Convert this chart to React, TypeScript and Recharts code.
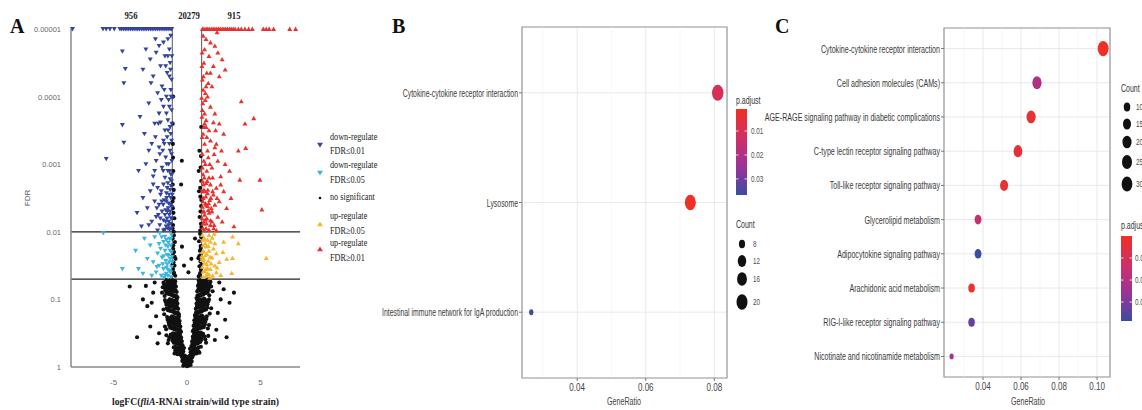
import React from 'react';
import {
  ScatterChart, Scatter, XAxis, YAxis, CartesianGrid, ReferenceLine, ReferenceArea,
} from 'recharts';

const SERIF = '"Liberation Serif", "Times New Roman", serif';
const SANS = '"Liberation Sans", Arial, sans-serif';

// ── panel A: volcano (x = logFC, y = -log10 FDR, capped at 5) ──────────
const aYTickLabels = ['1', '0.1', '0.01', '0.001', '0.0001', '0.00001'];
const aXTicks = [-5, 0, 5];
const aGroupTotals = ['956', '20279', '915'];

const downTopX = [-1.04, -1.15, -1.28, -1.4, -1.51, -1.63, -1.76, -1.88, -2.0, -2.12, -2.25, -2.37, -2.49, -2.62,
  -2.74, -2.86, -2.98, -3.1, -3.23, -3.35, -3.47, -3.6, -3.72, -3.84, -3.97, -4.09, -4.21, -4.33, -4.46, -4.57,
  -4.95, -5.25, -5.5, -5.72, -7.8];
const downStrong: [number, number][] = [
  [-1.1, 4.9], [-1.3, 4.85], [-1.6, 4.8], [-1.9, 4.75], [-1.2, 4.7], [-2.1, 4.65], [-1.5, 4.6], [-2.5, 4.55],
  [-1.15, 4.5], [-1.8, 4.45], [-2.8, 4.7], [-1.35, 4.35], [-2.3, 4.3], [-1.05, 4.25], [-4.4, 4.67], [-4.2, 4.41],
  [-4.3, 4.2], [-3.0, 4.4], [-1.7, 4.15], [-2.0, 4.05], [-1.1, 4.1], [-1.4, 4.0], [-1.25, 3.95], [-2.6, 3.9],
  [-1.6, 3.85], [-1.05, 3.8], [-1.9, 3.75], [-3.2, 3.7], [-1.3, 3.65], [-2.2, 3.6], [-1.15, 3.55], [-4.4, 3.58],
  [-1.5, 3.5], [-1.8, 3.62], [-2.9, 3.45], [-1.0, 3.98], [-2.4, 3.3], [-1.1, 3.45], [-1.35, 3.4], [-1.6, 3.35],
  [-4.3, 3.32], [-1.2, 3.3], [-1.9, 3.25], [-2.6, 3.2], [-1.05, 3.15], [-1.45, 3.1], [-5.5, 3.08], [-2.1, 3.05],
  [-1.25, 3.0], [-1.7, 2.95], [-3.3, 2.9], [-1.1, 2.85], [-2.3, 2.82], [-1.5, 2.8], [-1.85, 3.15], [-2.8, 3.0],
  [-1.05, 2.75], [-1.3, 2.72], [-1.6, 2.7], [-2.0, 2.65], [-1.15, 2.62], [-2.5, 2.6], [-1.4, 2.57], [-1.8, 2.55],
  [-1.1, 2.5], [-3.0, 2.5], [-1.55, 2.47], [-2.2, 2.45], [-1.25, 2.42], [-1.9, 2.4], [-1.05, 2.37], [-2.7, 2.35],
  [-1.45, 2.32], [-1.7, 2.3], [-3.4, 2.28], [-1.2, 2.25], [-2.1, 2.22], [-1.35, 2.2], [-1.6, 2.17], [-2.4, 2.15],
  [-1.1, 2.12], [-1.85, 2.1], [-3.1, 2.08], [-1.3, 2.05], [-1.5, 2.03], [-2.0, 2.02], [-1.15, 2.3], [-1.75, 2.6],
  [-2.3, 2.7], [-1.02, 2.2], [-2.6, 2.1], [-1.95, 2.25], [-1.2, 4.3], [-1.4, 3.75], [-1.05, 3.35], [-1.3, 2.9],
  [-1.65, 3.2], [-1.0, 2.55], [-1.45, 4.45], [-1.75, 3.95], [-2.15, 3.4], [-1.25, 2.15],
  [-1.03, 4.6], [-1.12, 4.4], [-1.08, 4.0], [-1.2, 3.85], [-1.03, 3.6], [-1.15, 3.2], [-1.28, 3.5], [-1.03, 3.05],
  [-1.18, 2.9], [-1.35, 2.65], [-1.08, 2.68], [-1.22, 2.55], [-1.4, 2.45], [-1.1, 2.4], [-1.33, 2.3], [-1.5, 2.25],
  [-1.08, 2.2], [-1.25, 2.1], [-1.42, 2.08], [-1.6, 2.02], [-1.18, 2.03], [-1.38, 3.0], [-1.55, 3.3], [-1.62, 2.9],
  [-1.72, 2.45], [-2.05, 2.35], [-2.2, 2.9], [-1.95, 3.6], [-2.45, 4.2], [-2.15, 4.85], [-1.55, 4.1], [-1.3, 4.6],
  [-1.02, 2.85], [-1.15, 2.78], [-1.28, 2.35], [-1.45, 2.15], [-1.05, 2.05], [-1.62, 2.4], [-1.82, 2.2], [-1.38, 2.5],
];
const downWeak: [number, number][] = [
  [-1.05, 1.95], [-1.2, 1.9], [-1.4, 1.88], [-1.6, 1.85], [-1.1, 1.8], [-1.3, 1.78], [-1.8, 1.75], [-1.5, 1.72],
  [-1.05, 1.7], [-2.0, 1.68], [-1.25, 1.65], [-1.7, 1.62], [-1.15, 1.6], [-1.45, 1.57], [-2.3, 1.55], [-1.35, 1.52],
  [-1.9, 1.5], [-1.05, 1.48], [-1.6, 1.45], [-1.2, 1.42], [-2.1, 1.4], [-1.4, 1.38], [-1.75, 1.35], [-1.1, 1.33],
  [-1.55, 1.32], [-2.5, 1.8], [-2.7, 1.6], [-3.5, 1.72], [-3.3, 1.45], [-4.4, 1.45], [-5.7, 1.98], [-2.9, 1.9],
  [-3.0, 1.38], [-2.2, 1.92], [-1.3, 1.35], [-1.85, 1.98], [-1.0, 1.55], [-1.5, 1.93], [-2.4, 1.35],
  [-1.08, 1.9], [-1.25, 1.84], [-1.45, 1.8], [-1.15, 1.72], [-1.35, 1.66], [-1.58, 1.64], [-1.2, 1.55], [-1.4, 1.47],
  [-1.65, 1.52], [-1.1, 1.4], [-1.3, 1.44], [-1.5, 1.36], [-1.9, 1.82], [-2.05, 1.48], [-1.72, 1.92], [-1.02, 1.63],
];
const upTopX = [1.05, 1.16, 1.3, 1.41, 1.52, 1.66, 1.78, 1.9, 2.03, 2.15, 2.27, 2.4, 2.52, 2.65, 2.77, 2.9, 3.02,
  3.15, 3.28, 3.5, 3.7, 3.95, 4.2, 4.45, 5.2, 5.4, 5.6, 5.9, 7.0, 7.4];
const upStrong: [number, number][] = [
  [1.1, 4.9], [1.3, 4.85], [1.6, 4.8], [1.9, 4.75], [1.2, 4.7], [2.1, 4.65], [1.5, 4.6], [2.4, 4.55],
  [1.15, 4.5], [1.8, 4.45], [1.35, 4.35], [2.2, 4.3], [1.05, 4.25], [1.7, 4.15], [2.6, 4.4], [1.25, 4.05],
  [1.1, 4.1], [1.4, 4.0], [1.25, 3.95], [3.7, 3.93], [1.6, 3.85], [1.05, 3.8], [1.9, 3.75], [4.55, 3.68],
  [1.3, 3.65], [2.2, 3.6], [3.95, 3.6], [1.15, 3.55], [1.5, 3.5], [1.8, 3.62], [2.5, 3.45], [1.0, 3.98],
  [2.0, 3.3], [1.1, 3.45], [1.35, 3.4], [1.6, 3.35], [1.2, 3.3], [1.9, 3.25], [4.0, 3.24], [1.05, 3.15],
  [1.45, 3.1], [2.1, 3.05], [1.25, 3.0], [1.7, 2.95], [2.9, 2.9], [1.1, 2.85], [2.3, 2.82], [1.5, 2.8],
  [1.85, 3.15], [2.6, 3.0], [3.5, 3.2], [1.05, 2.75], [1.3, 2.72], [1.6, 2.7], [2.0, 2.65], [1.15, 2.62],
  [2.5, 2.6], [1.4, 2.57], [1.8, 2.55], [1.1, 2.5], [3.0, 2.5], [1.55, 2.47], [2.2, 2.45], [1.25, 2.42],
  [1.9, 2.4], [1.05, 2.37], [2.7, 2.35], [1.45, 2.32], [1.7, 2.3], [5.1, 2.33], [1.2, 2.25], [2.1, 2.22],
  [1.35, 2.2], [1.6, 2.17], [2.4, 2.15], [1.1, 2.12], [1.85, 2.1], [3.2, 2.08], [1.3, 2.05], [1.5, 2.03],
  [2.0, 2.02], [4.97, 2.77], [3.6, 2.77], [1.15, 2.3], [1.75, 2.6], [2.3, 2.7], [1.02, 2.2], [1.2, 3.75],
  [1.4, 3.2], [1.05, 2.95], [1.3, 2.4], [1.6, 2.1], [1.02, 4.45], [1.45, 4.2],
  [1.03, 4.65], [1.12, 4.3], [1.08, 3.9], [1.2, 3.6], [1.03, 3.4], [1.15, 3.05], [1.3, 3.55], [1.03, 2.6],
  [1.18, 2.8], [1.35, 2.9], [1.08, 2.45], [1.22, 2.6], [1.4, 2.38], [1.1, 2.3], [1.33, 2.12], [1.5, 2.28],
  [1.08, 2.05], [1.25, 2.18], [1.42, 2.62], [1.62, 2.5], [1.18, 2.02], [1.38, 2.75], [1.55, 3.0], [1.65, 2.35],
  [1.75, 2.8], [2.05, 2.5], [2.35, 3.2], [1.95, 3.5], [1.6, 4.35], [2.05, 4.95], [1.3, 4.15], [1.02, 3.7],
  [1.15, 2.15], [1.28, 2.52], [1.48, 2.42], [1.82, 2.05], [1.7, 2.15], [1.12, 2.7],
];
const upWeak: [number, number][] = [
  [1.05, 1.95], [1.2, 1.9], [1.4, 1.88], [1.6, 1.85], [1.1, 1.8], [1.3, 1.78], [1.8, 1.75], [1.5, 1.72],
  [1.05, 1.7], [2.0, 1.68], [1.25, 1.65], [1.7, 1.62], [1.15, 1.6], [1.45, 1.57], [2.2, 1.55], [1.35, 1.52],
  [1.9, 1.5], [1.05, 1.48], [1.6, 1.45], [1.2, 1.42], [2.0, 1.4], [1.4, 1.38], [1.75, 1.35], [1.1, 1.33],
  [1.55, 1.32], [2.5, 1.85], [2.7, 1.6], [3.1, 1.93], [3.5, 1.83], [3.1, 1.61], [5.4, 1.61], [3.05, 1.39],
  [1.3, 1.35], [1.85, 1.97], [1.02, 1.58], [1.5, 1.95], [2.3, 1.36], [2.45, 1.7],
  [1.08, 1.88], [1.25, 1.83], [1.45, 1.79], [1.15, 1.71], [1.35, 1.67], [1.58, 1.63], [1.2, 1.54], [1.4, 1.46],
  [1.65, 1.53], [1.1, 1.41], [1.3, 1.45], [1.5, 1.37], [1.9, 1.83], [2.05, 1.47], [1.72, 1.91], [1.02, 1.64],
];
const notSig: [number, number][] = [
  // apex
  [0, 0.01], [0.08, 0.02], [-0.08, 0.03], [0.15, 0.04], [-0.15, 0.05], [0.22, 0.06], [-0.22, 0.07], [0.03, 0.08],
  [-0.03, 0.09], [0.28, 0.1], [-0.28, 0.11], [0.12, 0.12], [-0.12, 0.13], [0.35, 0.14], [-0.35, 0.15], [0.2, 0.1],
  [-0.2, 0.12], [0.05, 0.05], [-0.05, 0.04], [0.1, 0.07], [-0.1, 0.08], [0.18, 0.13], [-0.18, 0.14], [0.25, 0.03],
  [-0.25, 0.02], [0.32, 0.08], [-0.32, 0.09], [0, 0.06], [0.06, 0.14], [-0.06, 0.15],
  // 0.15 - 0.3
  [-0.15, 0.17], [-0.3, 0.18], [-0.45, 0.2], [-0.6, 0.22], [-0.25, 0.23], [-0.4, 0.25], [-0.55, 0.26], [-0.7, 0.27],
  [-0.2, 0.28], [-0.35, 0.29], [-0.5, 0.3], [-0.8, 0.24], [-0.65, 0.19], [-0.9, 0.29],
  [-0.22, 0.16], [-0.38, 0.17], [-0.52, 0.19], [-0.68, 0.24], [-0.32, 0.21], [-0.48, 0.22], [-0.62, 0.28],
  [-0.78, 0.3], [-0.28, 0.26], [-0.42, 0.3], [-0.85, 0.2],
  [0.15, 0.16], [0.3, 0.18], [0.45, 0.19], [0.6, 0.21], [0.25, 0.22], [0.4, 0.24], [0.55, 0.25], [0.7, 0.26],
  [0.2, 0.27], [0.35, 0.28], [0.5, 0.3], [0.8, 0.23], [0.65, 0.2], [0.95, 0.3],
  [0.22, 0.17], [0.38, 0.16], [0.52, 0.2], [0.68, 0.23], [0.32, 0.2], [0.48, 0.23], [0.62, 0.27],
  [0.78, 0.29], [0.28, 0.25], [0.42, 0.29], [0.85, 0.21],
  // 0.3 - 0.5
  [-0.3, 0.32], [-0.45, 0.33], [-0.6, 0.34], [-0.75, 0.35], [-0.9, 0.36], [-0.35, 0.38], [-0.5, 0.39], [-0.65, 0.4],
  [-0.8, 0.41], [-1.0, 0.42], [-0.4, 0.44], [-0.55, 0.45], [-0.7, 0.46], [-0.85, 0.47], [-1.1, 0.48], [-0.6, 0.5],
  [-0.95, 0.5], [-1.25, 0.4], [-1.4, 0.47],
  [-0.38, 0.34], [-0.52, 0.36], [-0.68, 0.37], [-0.82, 0.38], [-0.98, 0.39], [-0.42, 0.41], [-0.58, 0.42],
  [-0.72, 0.43], [-0.88, 0.44], [-1.05, 0.46], [-0.48, 0.48], [-0.66, 0.49], [-0.78, 0.5], [-1.2, 0.44], [-1.3, 0.35],
  [0.3, 0.31], [0.45, 0.33], [0.6, 0.34], [0.75, 0.35], [0.9, 0.37], [0.35, 0.38], [0.5, 0.4], [0.65, 0.41],
  [0.8, 0.42], [1.0, 0.43], [0.4, 0.45], [0.55, 0.46], [0.7, 0.47], [0.85, 0.48], [1.1, 0.49], [0.6, 0.5],
  [0.95, 0.51], [1.25, 0.41], [1.45, 0.46],
  [0.38, 0.35], [0.52, 0.37], [0.68, 0.36], [0.82, 0.39], [0.98, 0.4], [0.42, 0.42], [0.58, 0.43],
  [0.72, 0.44], [0.88, 0.45], [1.05, 0.47], [0.48, 0.49], [0.66, 0.48], [0.78, 0.51], [1.2, 0.45], [1.3, 0.36],
  // 0.5 - 0.75
  [-0.4, 0.52], [-0.55, 0.53], [-0.7, 0.55], [-0.85, 0.56], [-1.0, 0.57], [-1.15, 0.58], [-0.45, 0.6], [-0.6, 0.61],
  [-0.75, 0.62], [-0.9, 0.64], [-1.05, 0.65], [-1.25, 0.66], [-0.5, 0.68], [-0.65, 0.69], [-0.8, 0.7], [-0.95, 0.72],
  [-1.1, 0.73], [-1.35, 0.74], [-1.5, 0.6], [-0.55, 0.75],
  [-0.48, 0.55], [-0.62, 0.56], [-0.78, 0.58], [-0.92, 0.59], [-1.08, 0.6], [-1.22, 0.62], [-0.52, 0.64],
  [-0.68, 0.65], [-0.82, 0.66], [-0.98, 0.68], [-1.15, 0.69], [-1.32, 0.7], [-0.58, 0.72], [-0.72, 0.73],
  [-0.88, 0.74], [-1.02, 0.75], [-1.42, 0.56],
  [0.4, 0.53], [0.55, 0.54], [0.7, 0.55], [0.85, 0.57], [1.0, 0.58], [1.15, 0.59], [0.45, 0.61], [0.6, 0.62],
  [0.75, 0.63], [0.9, 0.65], [1.05, 0.66], [1.25, 0.67], [0.5, 0.69], [0.65, 0.7], [0.8, 0.71], [0.95, 0.73],
  [1.1, 0.74], [1.35, 0.75], [1.5, 0.62], [0.55, 0.76],
  [0.48, 0.56], [0.62, 0.57], [0.78, 0.59], [0.92, 0.6], [1.08, 0.61], [1.22, 0.63], [0.52, 0.65],
  [0.68, 0.66], [0.82, 0.67], [0.98, 0.69], [1.15, 0.7], [1.32, 0.71], [0.58, 0.73], [0.72, 0.74],
  [0.88, 0.75], [1.02, 0.76], [1.42, 0.57],
  // 0.75 - 1.0
  [-0.55, 0.78], [-0.7, 0.79], [-0.85, 0.8], [-1.0, 0.82], [-1.15, 0.83], [-1.3, 0.84], [-0.6, 0.86], [-0.75, 0.87],
  [-0.9, 0.88], [-1.05, 0.9], [-1.2, 0.91], [-1.4, 0.92], [-0.65, 0.94], [-0.8, 0.95], [-0.95, 0.96], [-1.1, 0.97],
  [-1.25, 0.98], [-1.5, 0.99], [-1.6, 0.85], [-0.7, 1.0],
  [-0.62, 0.8], [-0.78, 0.81], [-0.92, 0.83], [-1.08, 0.84], [-1.22, 0.86], [-1.38, 0.87], [-0.68, 0.89],
  [-0.82, 0.9], [-0.98, 0.92], [-1.12, 0.93], [-1.28, 0.94], [-1.45, 0.96], [-0.72, 0.97], [-0.88, 0.98],
  [-1.02, 0.99], [-1.18, 1.0], [-1.55, 0.78],
  [0.55, 0.77], [0.7, 0.79], [0.85, 0.81], [1.0, 0.82], [1.15, 0.84], [1.3, 0.85], [0.6, 0.86], [0.75, 0.88],
  [0.9, 0.89], [1.05, 0.9], [1.2, 0.92], [1.4, 0.93], [0.65, 0.94], [0.8, 0.96], [0.95, 0.97], [1.1, 0.98],
  [1.25, 0.99], [1.5, 1.0], [1.65, 0.87], [0.7, 1.01],
  [0.62, 0.81], [0.78, 0.82], [0.92, 0.84], [1.08, 0.85], [1.22, 0.87], [1.38, 0.88], [0.68, 0.9],
  [0.82, 0.91], [0.98, 0.93], [1.12, 0.94], [1.28, 0.95], [1.45, 0.97], [0.72, 0.98], [0.88, 0.99],
  [1.02, 1.0], [1.18, 1.01], [1.55, 0.79],
  // 1.0 - 1.3
  [-0.65, 1.03], [-0.8, 1.04], [-0.95, 1.05], [-1.1, 1.07], [-1.25, 1.08], [-1.4, 1.09], [-0.7, 1.11], [-0.85, 1.12],
  [-1.0, 1.13], [-1.15, 1.15], [-1.3, 1.16], [-1.5, 1.17], [-0.75, 1.19], [-0.9, 1.2], [-1.05, 1.21], [-1.2, 1.23],
  [-1.35, 1.24], [-1.6, 1.25], [-0.8, 1.27], [-0.95, 1.28], [-1.1, 1.29], [-1.7, 1.1], [-1.45, 1.29],
  [-0.72, 1.05], [-0.88, 1.06], [-1.02, 1.08], [-1.18, 1.1], [-1.32, 1.11], [-1.48, 1.13], [-0.78, 1.14],
  [-0.92, 1.16], [-1.08, 1.17], [-1.22, 1.19], [-1.38, 1.2], [-1.55, 1.22], [-0.82, 1.23], [-0.98, 1.25],
  [-1.12, 1.26], [-1.28, 1.27], [-1.52, 1.05], [-1.65, 1.18],
  [0.65, 1.02], [0.8, 1.04], [0.95, 1.06], [1.1, 1.07], [1.25, 1.09], [1.4, 1.1], [0.7, 1.12], [0.85, 1.13],
  [1.0, 1.14], [1.15, 1.16], [1.3, 1.17], [1.5, 1.18], [0.75, 1.2], [0.9, 1.21], [1.05, 1.22], [1.2, 1.24],
  [1.35, 1.25], [1.6, 1.26], [0.8, 1.28], [0.95, 1.29], [1.1, 1.3], [1.75, 1.12], [1.45, 1.3],
  [0.72, 1.06], [0.88, 1.07], [1.02, 1.09], [1.18, 1.11], [1.32, 1.12], [1.48, 1.14], [0.78, 1.15],
  [0.92, 1.17], [1.08, 1.18], [1.22, 1.2], [1.38, 1.21], [1.55, 1.23], [0.82, 1.24], [0.98, 1.26],
  [1.12, 1.27], [1.28, 1.28], [1.52, 1.06], [1.65, 1.19],
  // thin arms above FDR 0.05
  [-0.8, 1.35], [-0.9, 1.4], [-0.95, 1.45], [-0.85, 1.5], [-0.92, 1.55], [-0.78, 1.6], [-0.96, 1.65], [-0.88, 1.7],
  [-0.93, 1.8], [-0.82, 1.85], [-0.97, 1.9], [-0.9, 2.0], [-0.95, 2.1], [-0.86, 2.2], [-0.96, 2.35], [-0.91, 2.5],
  [-0.97, 2.7], [-0.93, 2.9], [-0.96, 3.3], [-0.88, 1.38], [-0.98, 1.52], [-0.84, 1.63], [-0.94, 1.75],
  [-0.89, 1.95], [-0.98, 2.05], [-0.92, 2.28], [-0.98, 2.45], [-0.9, 2.62], [-0.95, 3.1], [-0.97, 3.6], [-0.94, 4.0],
  [0.8, 1.34], [0.9, 1.39], [0.95, 1.44], [0.85, 1.49], [0.92, 1.56], [0.78, 1.61], [0.96, 1.66], [0.88, 1.72],
  [0.93, 1.79], [0.82, 1.86], [0.97, 1.92], [0.9, 2.02], [0.95, 2.12], [0.86, 2.22], [0.96, 2.38], [0.91, 2.52],
  [0.97, 2.75], [0.93, 2.95], [0.88, 1.37], [0.98, 1.51], [0.84, 1.64], [0.94, 1.76], [0.89, 1.97], [0.98, 2.07],
  [0.92, 2.3], [0.98, 2.47], [0.9, 2.65], [0.95, 3.12], [0.97, 3.55],
  // inside the V and outliers
  [-0.34, 1.78], [0.55, 1.9], [-0.2, 1.5], [0.3, 1.6], [-0.4, 2.7], [0.8, 2.9], [0.85, 3.2], [-0.35, 3.05],
  [0.82, 2.6], [0.1, 1.4], [-3.9, 1.19], [-3.4, 0.44], [-2.7, 0.9], [-2.3, 1.1], [-2.1, 0.75], [-2.5, 0.6],
  [-1.9, 0.5], [-2.2, 1.25], [-3.0, 1.0], [-2.8, 1.2], [-2.0, 0.35], [-2.4, 0.95], [2.7, 0.44], [2.3, 1.0],
  [2.1, 0.8], [2.5, 1.15], [2.0, 0.55], [2.9, 0.95], [2.2, 1.25], [1.9, 0.4], [3.2, 1.1], [2.6, 0.7],
];

// ── panel B: KEGG enrichment (top to bottom) ─────────────────────────
const bTerms = ['Cytokine-cytokine receptor interaction', 'Lysosome', 'Intestinal immune network for IgA production'];
const bRatio = [0.081, 0.073, 0.0266];
const bCount = [22, 20, 7];
const bPadj = [0.0098, 0.0008, 0.0367];
const bXMajor = [0.04, 0.06, 0.08];
const bXMinor = [0.03, 0.05, 0.07];
const bCountLegend = [8, 12, 16, 20];
const bPadjTicks = [0.01, 0.02, 0.03];

// ── panel C: KEGG enrichment (top to bottom) ─────────────────────────
const cTerms = [
  'Cytokine-cytokine receptor interaction', 'Cell adhesion molecules (CAMs)',
  'AGE-RAGE signaling pathway in diabetic complications', 'C-type lectin receptor signaling pathway',
  'Toll-like receptor signaling pathway', 'Glycerolipid metabolism', 'Adipocytokine signaling pathway',
  'Arachidonic acid metabolism', 'RIG-I-like receptor signaling pathway', 'Nicotinate and nicotinamide metabolism',
];
const cRatio = [0.1032, 0.0684, 0.0653, 0.0584, 0.0511, 0.0374, 0.0374, 0.034, 0.034, 0.0235];
const cCount = [31, 21, 20, 18, 15, 11, 11, 10, 10, 7];
const cPadj = [0.0002, 0.021, 0.003, 0.004, 0.003, 0.015, 0.0386, 0.002, 0.033, 0.023];
const cXMajor = [0.04, 0.06, 0.08, 0.1];
const cXMinor = [0.03, 0.05, 0.07, 0.09];
const cCountLegend = [10, 15, 20, 25, 30];
const cPadjTicks = [0.01, 0.02, 0.03];

// colour ramp red (low p) -> blue (high p)
const RAMP = ['#ee3124', '#d02f66', '#9c3296', '#3b4ca3'];
function hex(c: string) { return [1, 3, 5].map(i => parseInt(c.slice(i, i + 2), 16)); }
function rampColor(t: number) {
  const u = Math.max(0, Math.min(1, t)) * (RAMP.length - 1);
  const i = Math.min(RAMP.length - 2, Math.floor(u));
  const f = u - i;
  const a = hex(RAMP[i]), b = hex(RAMP[i + 1]);
  return `rgb(${a.map((v, k) => Math.round(v + (b[k] - v) * f)).join(',')})`;
}
// ggplot-like area size scale, range 3..8
function dotR(count: number, lo: number, hi: number, k: number) {
  return k * (3 + 5 * Math.sqrt(Math.max(0, (count - lo) / (hi - lo))));
}

const toXY = (pts: [number, number][]) => pts.map(([x, y]) => ({ x, y }));
const dataDownStrong = [...downTopX.map(x => ({ x, y: 5 })), ...toXY(downStrong)];
const dataUpStrong = [...upTopX.map(x => ({ x, y: 5 })), ...toXY(upStrong)];

const C_DOWN = '#34449a';
const C_DOWN2 = '#3cb6e0';
const C_UP2 = '#f2b630';
const C_UP = '#e8322e';

const triDown = (fill: string) => (p: any) => (
  <path d={`M${p.cx - 2.5},${p.cy - 1.9}L${p.cx + 2.5},${p.cy - 1.9}L${p.cx},${p.cy + 2.4}Z`} fill={fill} />
);
const triUp = (fill: string) => (p: any) => (
  <path d={`M${p.cx - 2.5},${p.cy + 1.9}L${p.cx + 2.5},${p.cy + 1.9}L${p.cx},${p.cy - 2.4}Z`} fill={fill} />
);
const dot = (p: any) => <circle cx={p.cx} cy={p.cy} r={2.05} fill="#111" />;

function ST(props: { x: number; y: number; sx?: number; anchor?: string; size: number; fill?: string;
  family?: string; weight?: string | number; children: React.ReactNode; rotate?: number }) {
  const { x, y, sx = 1, anchor = 'start', size, fill = '#333', family = SANS, weight, children, rotate } = props;
  const tr = `translate(${x},${y})${rotate ? ` rotate(${rotate})` : ''} scale(${sx},1)`;
  return (
    <text transform={tr} textAnchor={anchor as any} fontSize={size} fill={fill} fontFamily={family} fontWeight={weight}>
      {children}
    </text>
  );
}

function VolcanoPanel() {
  return (
    <ScatterChart width={380} height={410} margin={{ top: 29, right: 80, bottom: 23, left: 11 }}>
      <XAxis type="number" dataKey="x" domain={[-7.9, 7.7]} ticks={aXTicks} height={20}
        axisLine={{ stroke: '#8a8a8a', strokeWidth: 1.5 }} tickLine={false} tickSize={0} tickMargin={0}
        tick={(p: any) => (
          <text x={p.x} y={p.y + 18} textAnchor="middle" fontSize={8} fill="#666" fontFamily={SANS}>
            {p.payload.value}
          </text>
        )} />
      <YAxis type="number" dataKey="y" domain={[0, 5]} ticks={[0, 1, 2, 3, 4, 5]} width={60}
        axisLine={{ stroke: '#8a8a8a', strokeWidth: 1.5 }} tickLine={false} tickSize={0} tickMargin={0}
        tick={(p: any) => (
          <text x={p.x - 10} y={p.y + 3} textAnchor="end" fontSize={7.5} fill="#666" fontFamily={SANS}>
            {aYTickLabels[p.payload.value]}
          </text>
        )} />
      <Scatter data={toXY(notSig)} shape={dot} isAnimationActive={false} />
      <Scatter data={toXY(downWeak)} shape={triDown(C_DOWN2)} isAnimationActive={false} />
      <Scatter data={toXY(upWeak)} shape={triUp(C_UP2)} isAnimationActive={false} />
      <Scatter data={dataDownStrong} shape={triDown(C_DOWN)} isAnimationActive={false} />
      <Scatter data={dataUpStrong} shape={triUp(C_UP)} isAnimationActive={false} />
      <ReferenceLine y={2} stroke="#222" strokeWidth={1.2} />
      <ReferenceLine y={1.301} stroke="#222" strokeWidth={1.2} />
      <ReferenceLine segment={[{ x: -1, y: 1.301 }, { x: -1, y: 5 }]} stroke="#555" strokeWidth={1} />
      <ReferenceLine segment={[{ x: 1, y: 1.301 }, { x: 1, y: 5 }]} stroke="#555" strokeWidth={1} />
    </ScatterChart>
  );
}

interface DotProps {
  terms: string[]; ratio: number[]; count: number[]; padj: number[];
  xDomain: [number, number]; xMajor: number[]; xMinor: number[];
  padjRange: [number, number]; countRange: [number, number]; k: number;
  width: number; margin: { top: number; right: number; bottom: number; left: number }; yWidth: number;
  labelScale: number;
}

function DotPanel(props: DotProps) {
  const { terms, ratio, count, padj, xDomain, xMajor, xMinor, padjRange, countRange, k } = props;
  const n = terms.length;
  const data = terms.map((t, i) => ({ x: ratio[i], y: n - i, count: count[i], padj: padj[i] }));
  const shape = (p: any) => {
    const ry = dotR(p.payload.count, countRange[0], countRange[1], k);
    const t = (p.payload.padj - padjRange[0]) / (padjRange[1] - padjRange[0]);
    return <ellipse cx={p.cx} cy={p.cy} rx={ry * 0.72} ry={ry} fill={rampColor(t)} />;
  };
  return (
    <ScatterChart width={props.width} height={410} margin={props.margin}>
      <CartesianGrid stroke="#e6e6e6" strokeWidth={0.9} />
      {xMinor.map(v => <ReferenceLine key={v} x={v} stroke="#f1f1f1" strokeWidth={0.6} />)}
      <XAxis type="number" dataKey="x" domain={xDomain} allowDataOverflow ticks={xMajor} height={30}
        axisLine={false} tickLine={{ stroke: '#777' }} tickSize={3} tickMargin={0}
        tick={(p: any) => (
          <ST x={p.x} y={p.y + 10} anchor="middle" size={11.5} sx={0.7} fill="#444">
            {p.payload.value.toFixed(2)}
          </ST>
        )} />
      <YAxis type="number" dataKey="y" domain={[0.4, n + 0.6]} allowDataOverflow
        ticks={terms.map((_, i) => i + 1)} width={props.yWidth}
        axisLine={false} tickLine={{ stroke: '#777' }} tickSize={3} tickMargin={0}
        tick={(p: any) => (
          <ST x={p.x - 1} y={p.y + 4} anchor="end" size={11.5} sx={props.labelScale} fill="#3a3a3a">
            {terms[n - p.payload.value]}
          </ST>
        )} />
      <ReferenceArea x1={xDomain[0]} x2={xDomain[1]} y1={0.4} y2={n + 0.6} fill="none" stroke="#9a9a9a"
        strokeWidth={1.2} />
      <Scatter data={data} shape={shape} isAnimationActive={false} />
    </ScatterChart>
  );
}

function ColorBar({ id, x, y, w, h, ticks, range, labelX }: {
  id: string; x: number; y: number; w: number; h: number; ticks: number[]; range: [number, number]; labelX: number;
}) {
  return (
    <g>
      <defs>
        <linearGradient id={id} x1="0" y1="0" x2="0" y2="1">
          {RAMP.map((c, i) => <stop key={i} offset={i / (RAMP.length - 1)} stopColor={c} />)}
        </linearGradient>
      </defs>
      <rect x={x} y={y} width={w} height={h} fill={`url(#${id})`} />
      {ticks.map(t => {
        const ty = y + ((t - range[0]) / (range[1] - range[0])) * h;
        return (
          <g key={t}>
            <line x1={x} x2={x + 2.5} y1={ty} y2={ty} stroke="#fff" strokeWidth={0.8} />
            <line x1={x + w - 2.5} x2={x + w} y1={ty} y2={ty} stroke="#fff" strokeWidth={0.8} />
            <ST x={labelX} y={ty + 3} size={9} sx={0.7} fill="#4d4d4d">{t.toFixed(2)}</ST>
          </g>
        );
      })}
    </g>
  );
}

function Overlay() {
  const bR = bCountLegend.map(c => dotR(c, 7, 22, 1.0));
  const cR = cCountLegend.map(c => dotR(c, 7, 31, 0.95));
  const bCountY = [244, 261, 279, 302];
  const cCountY = [107, 124, 142, 162, 184];
  const legendA = [
    { shape: 'down', color: C_DOWN, lines: ['down-regulate', 'FDR\u22640.01'], y: [140, 154], my: 145 },
    { shape: 'down', color: C_DOWN2, lines: ['down-regulate', 'FDR\u22640.05'], y: [168, 183], my: 173 },
    { shape: 'dot', color: '#111', lines: ['no significant'], y: [200], my: 198 },
    { shape: 'up', color: C_UP2, lines: ['up-regulate', 'FDR\u22650.05'], y: [219, 234], my: 224 },
    { shape: 'up', color: C_UP, lines: ['up-regulate', 'FDR\u22650.01'], y: [246, 261], my: 249 },
  ];
  return (
    <svg width={1142} height={410} style={{ position: 'absolute', left: 0, top: 0, pointerEvents: 'none' }}>
      {/* panel letters */}
      <ST x={10} y={33} size={20} weight="bold" family={SERIF} fill="#111">A</ST>
      <ST x={392} y={33} size={20} weight="bold" family={SERIF} fill="#111">B</ST>
      <ST x={775} y={33} size={20} weight="bold" family={SERIF} fill="#111">C</ST>

      {/* panel A annotations */}
      <ST x={131} y={19} anchor="middle" size={10} sx={0.87} weight="bold" family={SERIF} fill="#222">{aGroupTotals[0]}</ST>
      <ST x={189} y={19} anchor="middle" size={10} sx={0.87} weight="bold" family={SERIF} fill="#222">{aGroupTotals[1]}</ST>
      <ST x={234} y={19} anchor="middle" size={10} sx={0.87} weight="bold" family={SERIF} fill="#222">{aGroupTotals[2]}</ST>
      <ST x={30} y={198} anchor="middle" size={8} fill="#555" rotate={-90}>FDR</ST>
      <text x={112} y={405} fontSize={11} fontWeight="bold" fontFamily={SERIF} fill="#222" textLength={167}
        lengthAdjust="spacingAndGlyphs">
        logFC(<tspan fontStyle="italic">fliA</tspan>-RNAi strain/wild type strain)
      </text>
      {legendA.map((e, i) => (
        <g key={i}>
          {e.shape === 'dot' && <circle cx={320} cy={e.my} r={1.3} fill={e.color} />}
          {e.shape === 'down' && <path d={`M317,${e.my - 2.2}L323,${e.my - 2.2}L320,${e.my + 2.6}Z`} fill={e.color} />}
          {e.shape === 'up' && <path d={`M317,${e.my + 2.2}L323,${e.my + 2.2}L320,${e.my - 2.6}Z`} fill={e.color} />}
          {e.lines.map((l, j) => (
            <ST key={j} x={330} y={e.y[j]} size={10} sx={0.82} family={SERIF} fill="#222">{l}</ST>
          ))}
        </g>
      ))}

      {/* panel B legends + axis title */}
      <ST x={624} y={405} anchor="middle" size={11.5} sx={0.62} fill="#444">GeneRatio</ST>
      <ST x={736} y={104} size={10} sx={0.7} fill="#333">p.adjust</ST>
      <ColorBar id="gb" x={736} y={109} w={11} h={86} ticks={bPadjTicks} range={[0.0008, 0.0367]} labelX={751} />
      <ST x={736} y={228} size={10} sx={0.7} fill="#333">Count</ST>
      {bCountLegend.map((c, i) => (
        <g key={c}>
          <ellipse cx={742} cy={bCountY[i]} rx={bR[i] * 0.72} ry={bR[i]} fill="#111" />
          <ST x={753} y={bCountY[i] + 3} size={9} sx={0.7} fill="#4d4d4d">{c}</ST>
        </g>
      ))}

      {/* panel C legends + axis title */}
      <ST x={1028} y={405} anchor="middle" size={11.5} sx={0.62} fill="#444">GeneRatio</ST>
      <ST x={1121} y={92} size={10} sx={0.7} fill="#333">Count</ST>
      {cCountLegend.map((c, i) => (
        <g key={c}>
          <ellipse cx={1127} cy={cCountY[i]} rx={cR[i] * 0.72} ry={cR[i]} fill="#111" />
          <ST x={1136} y={cCountY[i] + 3} size={9} sx={0.7} fill="#4d4d4d">{c}</ST>
        </g>
      ))}
      <ST x={1121} y={229} size={10} sx={0.7} fill="#333">p.adjust</ST>
      <ColorBar id="gc" x={1121} y={236} w={11} h={85} ticks={cPadjTicks} range={[0, 0.0386]} labelX={1135} />
    </svg>
  );
}

export default function App() {
  return (
    <div style={{ position: 'absolute', left: 0, top: 0, width: 1142, height: 410, overflow: 'hidden', background: '#fff' }}>
      <div style={{ position: 'absolute', left: 0, top: 0 }}><VolcanoPanel /></div>
      <div style={{ position: 'absolute', left: 370, top: 0 }}>
        <DotPanel terms={bTerms} ratio={bRatio} count={bCount} padj={bPadj} xDomain={[0.0239, 0.0837]}
          xMajor={bXMajor} xMinor={bXMinor} padjRange={[0.0008, 0.0367]} countRange={[7, 22]} k={1.0}
          width={400} margin={{ top: 27, right: 43, bottom: 2, left: 2 }} yWidth={150} labelScale={0.6} />
      </div>
      <div style={{ position: 'absolute', left: 740, top: 0 }}>
        <DotPanel terms={cTerms} ratio={cRatio} count={cCount} padj={cPadj} xDomain={[0.0195, 0.1068]}
          xMajor={cXMajor} xMinor={cXMinor} padjRange={[0, 0.0386]} countRange={[7, 31]} k={0.95}
          width={402} margin={{ top: 28, right: 32, bottom: 3, left: 4 }} yWidth={200} labelScale={0.62} />
      </div>
      <Overlay />
    </div>
  );
}
